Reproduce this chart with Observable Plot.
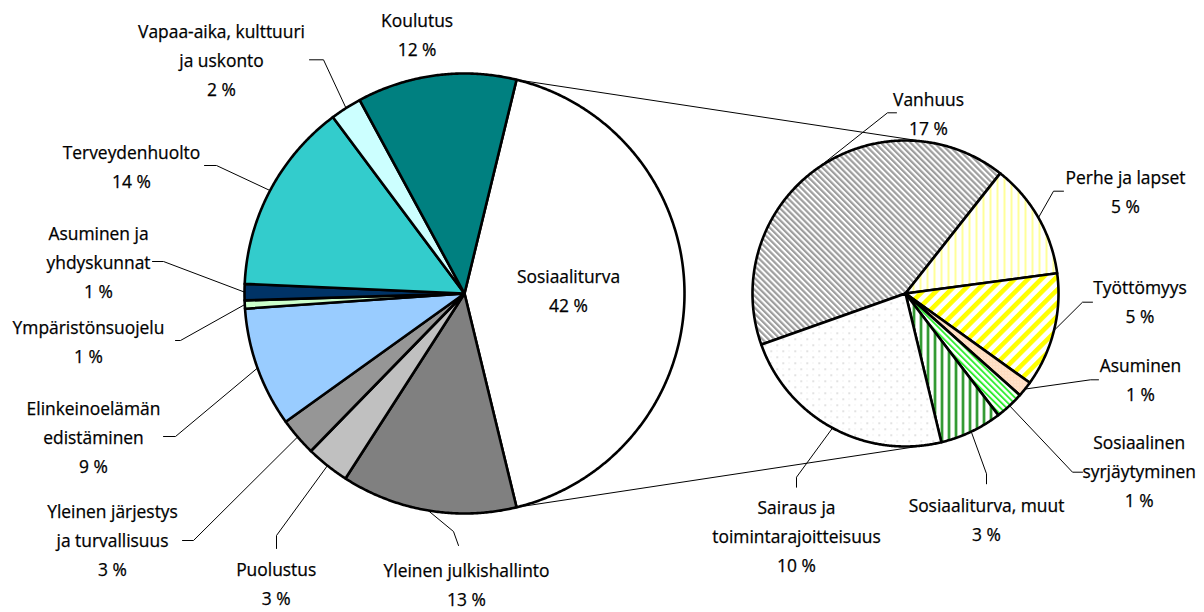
<!DOCTYPE html>
<html>
<head>
<meta charset="utf-8">
<script src="https://cdn.jsdelivr.net/npm/d3@7"></script>
<script src="https://cdn.jsdelivr.net/npm/@observablehq/plot@0.6"></script>
<style>
  html, body { margin: 0; padding: 0; background: #fff; }
  #chart svg { display: block; }
</style>
</head>
<body>
<div id="chart"></div>
<script>
// ---------------- DATA ----------------
const mainCategories = [
  "Sosiaaliturva",
  "Yleinen julkishallinto",
  "Puolustus",
  "Yleinen järjestys\nja turvallisuus",
  "Elinkeinoelämän\nedistäminen",
  "Ympäristönsuojelu",
  "Asuminen ja\nyhdyskunnat",
  "Terveydenhuolto",
  "Vapaa-aika, kulttuuri\nja uskonto",
  "Koulutus"
];
const mainValues = [42.4, 12.9, 3.2, 2.8, 8.8, 0.6, 1.2, 14.1, 2.3, 11.7];

const subCategories = [
  "Vanhuus",
  "Perhe ja lapset",
  "Työttömyys",
  "Asuminen",
  "Sosiaalinen\nsyrjäytyminen",
  "Sosiaaliturva, muut",
  "Sairaus ja\ntoimintarajoitteisuus"
];
const subValues = [17.4, 5.2, 5.1, 0.7, 1.3, 2.8, 9.9];

// ---------------- STYLES ----------------
const mainColors = ["#ffffff", "#808080", "#c0c0c0", "#969696", "#99ccff",
                    "#ccffcc", "#003366", "#33cccc", "#ccffff", "#008080"];
const subFills = ["url(#p-vanhuus)", "url(#p-perhe)", "url(#p-tyott)", "url(#p-asum)",
                  "url(#p-syrj)", "url(#p-muut)", "url(#p-sairaus)"];

// ---------------- LAYOUT ----------------
const W = 1204, H = 612;
const FS = 17.4, LINE = 29.2;
const mainPie = {cx: 464, cy: 293, r: 220};
const subPie = {cx: 905, cy: 293, r: 153, startDeg: 250.5};

// label layout: x centre, first baseline, leader start points (leader ends at slice mid-arc)
const mainLabelLayout = [
  {x: 568,   b: 282,   leader: null},
  {x: 466,   b: 576,   leader: [[458, 545], [453, 531]]},
  {x: 275.7, b: 575,   leader: [[276, 548], [276, 535]]},
  {x: 112,   b: 517,   leader: [[182, 540], [193, 540]]},
  {x: 93,    b: 414,   leader: [[163, 436], [175, 436]]},
  {x: 88,    b: 333,   leader: [[175, 340], [180, 340]]},
  {x: 98,    b: 239.5, leader: [[152, 261], [163, 261]]},
  {x: 131,   b: 158.3, leader: [[204, 165], [216, 165]]},
  {x: 221,   b: 37.5,  leader: [[309, 59.3], [323, 59.3]]},
  {x: 416.6, b: 26.7,  leader: null}
];
const subLabelLayout = [
  {x: 928,    b: 105,   leader: [[896, 112.3], [887, 112.3]]},
  {x: 1125,   b: 183.3, leader: [[1063, 190.7], [1053, 190.7]]},
  {x: 1139.5, b: 293.3, leader: [[1092, 301.7], [1082, 301.7]]},
  {x: 1140,   b: 371.7, leader: [[1098, 379.3], [1090, 379.3]]},
  {x: 1138.7, b: 448.3, leader: [[1082, 471.7], [1072, 471.7]]},
  {x: 986,    b: 511.7, leader: [[986, 483.3], [986, 473.3]]},
  {x: 796,    b: 513.3, leader: [[796, 486.7], [796, 476.7]]}
];

// ---------------- GEOMETRY ----------------
const rad = Math.PI / 180;
const pt = (pie, a, r = pie.r) => [pie.cx + r * Math.sin(a), pie.cy - r * Math.cos(a)];

const mainTotal = d3.sum(mainValues);
const mainStart = (90 - mainValues[0] / mainTotal * 180) * rad;
const mainArcs = d3.pie().sort(null).startAngle(mainStart).endAngle(mainStart + 2 * Math.PI)(mainValues);
const subStart = subPie.startDeg * rad;
const subArcs = d3.pie().sort(null).startAngle(subStart).endAngle(subStart + 2 * Math.PI)(subValues);

const slicePts = [];
function addSlices(pie, arcs, fills, prefix) {
  arcs.forEach((a, i) => {
    const id = prefix + i;
    const fill = fills[i];
    slicePts.push({id, fill, x: pie.cx, y: pie.cy});
    const n = Math.max(2, Math.ceil((a.endAngle - a.startAngle) / (0.4 * rad)));
    for (let k = 0; k <= n; k++) {
      const t = a.startAngle + (a.endAngle - a.startAngle) * k / n;
      const [x, y] = pt(pie, t);
      slicePts.push({id, fill, x, y});
    }
  });
}
addSlices(mainPie, mainArcs, mainColors, "m");
addSlices(subPie, subArcs, subFills, "s");

// connector lines: from edges of the first slice to tangent points on the second pie
function tangentPoint(P, pie, side) {
  const dx = P[0] - pie.cx, dy = P[1] - pie.cy;
  const d = Math.hypot(dx, dy);
  const base = Math.atan2(dy, dx);
  const off = Math.acos(pie.r / d);
  const c1 = base + off, c2 = base - off;
  const p1 = [pie.cx + pie.r * Math.cos(c1), pie.cy + pie.r * Math.sin(c1)];
  const p2 = [pie.cx + pie.r * Math.cos(c2), pie.cy + pie.r * Math.sin(c2)];
  return side === "top" ? (p1[1] < p2[1] ? p1 : p2) : (p1[1] > p2[1] ? p1 : p2);
}
const cTop = pt(mainPie, mainArcs[0].startAngle);
const cBot = pt(mainPie, mainArcs[0].endAngle);
const tTop = tangentPoint(cTop, subPie, "top");
const tBot = tangentPoint(cBot, subPie, "bottom");
const connectors = [
  {id: "top", x: cTop[0], y: cTop[1]}, {id: "top", x: tTop[0], y: tTop[1]},
  {id: "bot", x: cBot[0], y: cBot[1]}, {id: "bot", x: tBot[0], y: tBot[1]}
];

// labels and leaders
const labels = [];
const leaders = [];
function addLabels(pie, arcs, cats, vals, layout, prefix) {
  arcs.forEach((a, i) => {
    const L = layout[i];
    const text = cats[i] + "\n" + Math.round(vals[i]) + " %";
    const n = text.split("\n").length;
    const y = L.b - (0.82 - n / 2) * LINE;
    labels.push({x: L.x, y, text});
    if (L.leader) {
      const mid = (a.startAngle + a.endAngle) / 2;
      const end = pt(pie, mid);
      L.leader.forEach(p => leaders.push({id: prefix + i, x: p[0], y: p[1]}));
      leaders.push({id: prefix + i, x: end[0], y: end[1]});
    }
  });
}
addLabels(mainPie, mainArcs, mainCategories, mainValues, mainLabelLayout, "m");
addLabels(subPie, subArcs, subCategories, subValues, subLabelLayout, "s");

// ---------------- PLOT ----------------
const svg = Plot.plot({
  width: W, height: H, margin: 0,
  x: {domain: [0, W], range: [0, W], axis: null},
  y: {domain: [0, H], range: [0, H], axis: null},
  color: {type: "identity"},
  style: {fontFamily: "'Open Sans', 'Noto Sans', sans-serif", fontSize: FS + "px", background: "#fff", color: "#000"},
  marks: [
    Plot.line(connectors, {x: "x", y: "y", z: "id", stroke: "#000", strokeWidth: 1}),
    Plot.line(slicePts, {x: "x", y: "y", z: "id", fill: "fill", stroke: "#000",
                         strokeWidth: 2.6, strokeLinejoin: "round", curve: "linear-closed"}),
    Plot.line(leaders, {x: "x", y: "y", z: "id", stroke: "#000", strokeWidth: 1}),
    Plot.text(labels, {x: "x", y: "y", text: "text", fontSize: FS, lineHeight: LINE / FS,
                       lineAnchor: "middle", textAnchor: "middle", fill: "#000",
                       stroke: "#000", strokeWidth: 0.25})
  ]
});

d3.select(svg).insert("defs", ":first-child").html(`
  <pattern id="p-vanhuus" patternUnits="userSpaceOnUse" width="4.2" height="4.2" patternTransform="rotate(-45)">
    <rect width="4.2" height="4.2" fill="#ffffff"/><rect width="2.2" height="4.2" fill="#9e9e9e"/>
  </pattern>
  <pattern id="p-perhe" patternUnits="userSpaceOnUse" width="7" height="7">
    <rect width="7" height="7" fill="#ffffff"/><rect x="2" width="2" height="7" fill="#ffff99"/>
  </pattern>
  <pattern id="p-tyott" patternUnits="userSpaceOnUse" width="9.4" height="9.4" patternTransform="rotate(45)">
    <rect width="9.4" height="9.4" fill="#ffffff"/><rect width="4.6" height="9.4" fill="#ffff00"/>
  </pattern>
  <pattern id="p-asum" patternUnits="userSpaceOnUse" width="3" height="3">
    <rect width="3" height="3" fill="#ffdcc0"/><rect width="1" height="1" fill="#fff0e4"/>
  </pattern>
  <pattern id="p-syrj" patternUnits="userSpaceOnUse" width="4.4" height="4.4" patternTransform="rotate(-45)">
    <rect width="4.4" height="4.4" fill="#ffffff"/><rect width="1.9" height="4.4" fill="#33ee33"/>
  </pattern>
  <pattern id="p-muut" patternUnits="userSpaceOnUse" width="7" height="7">
    <rect width="7" height="7" fill="#ffffff"/><rect x="2" width="0.8" height="7" fill="#66bb66"/><rect x="2.8" width="1.8" height="7" fill="#008000"/>
  </pattern>
  <pattern id="p-sairaus" patternUnits="userSpaceOnUse" width="12" height="12">
    <rect width="12" height="12" fill="#ffffff"/>
    <rect x="2" y="2" width="1.4" height="1.4" fill="#c4c4c4"/>
    <rect x="8" y="8" width="1.4" height="1.4" fill="#c4c4c4"/>
    <rect x="8" y="2" width="1" height="1" fill="#e6e6e6"/>
    <rect x="2" y="8" width="1" height="1" fill="#e6e6e6"/>
  </pattern>
`);

document.getElementById("chart").appendChild(svg);
</script>
</body>
</html>
